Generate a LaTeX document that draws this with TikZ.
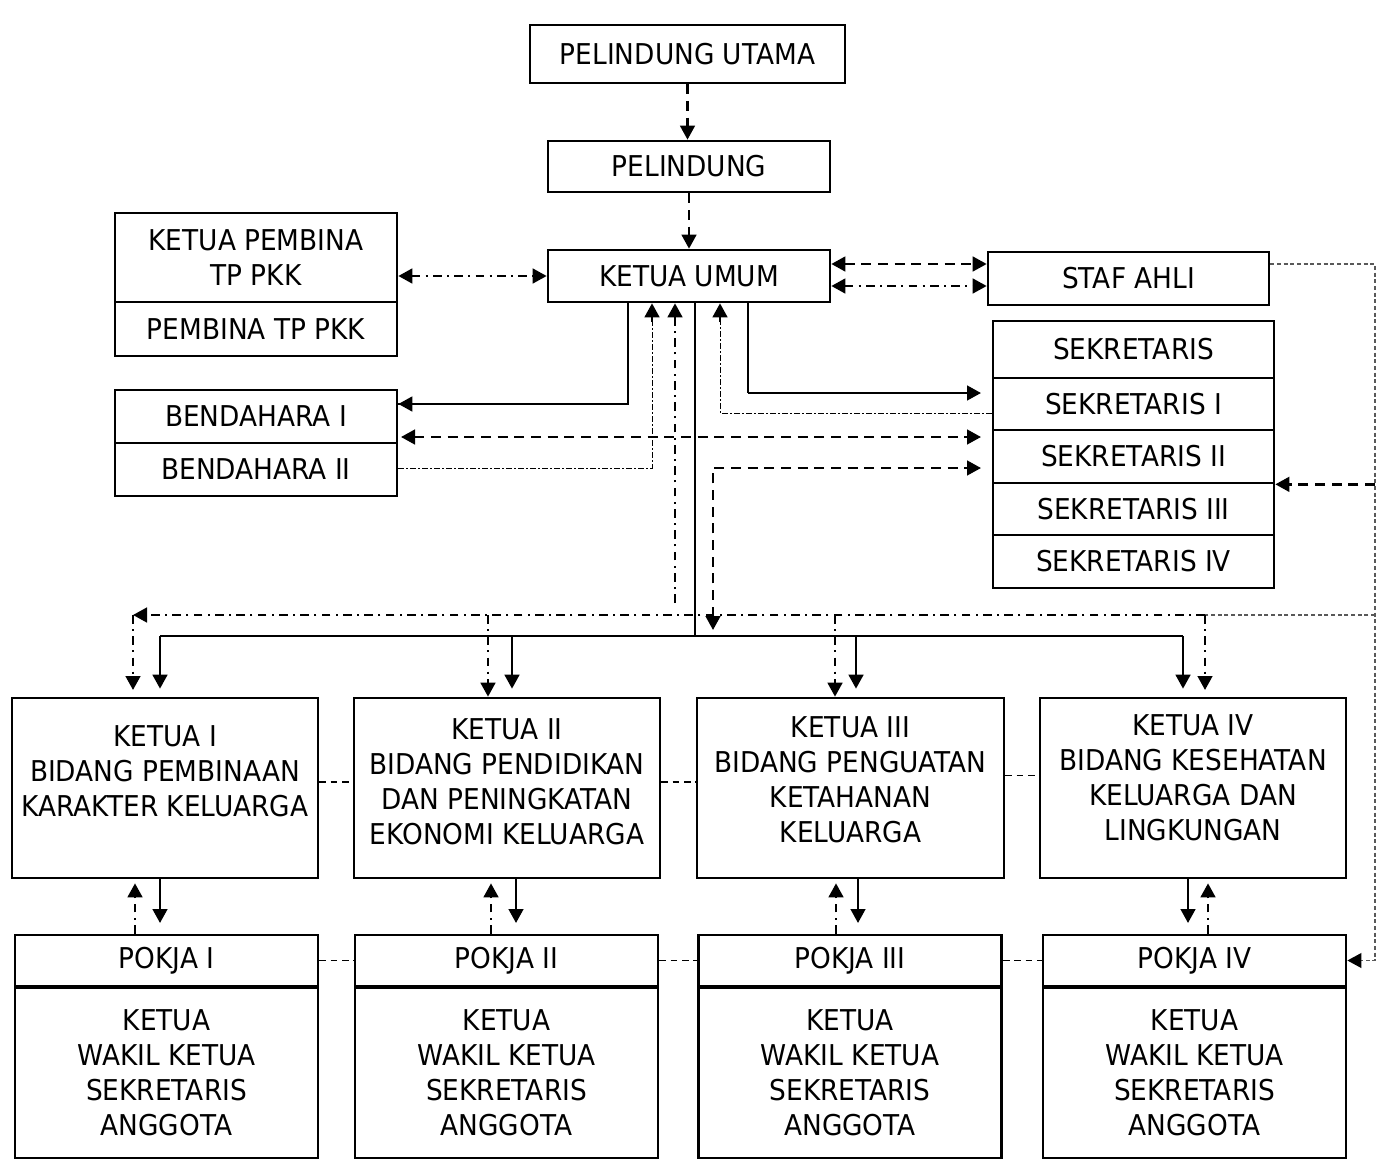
\documentclass[tikz,border=0pt]{standalone}
\usepackage{fontspec}
\setmainfont{DejaVu Sans}[FakeStretch=0.92]
\usetikzlibrary{arrows.meta,calc}
\tikzset{
  >={Triangle[length=10.5pt,width=11pt]},
  box/.style={draw, line width=2pt, inner sep=0pt, align=center, font=\fontsize{21.5pt}{26.25pt}\selectfont},
  txt/.style={inner sep=0pt, align=center, font=\fontsize{21.5pt}{26.25pt}\selectfont},
  sol/.style={line width=1.9pt},
  solthin/.style={line width=1.1pt},
  dsh/.style={line width=1.9pt, dash pattern=on 7.5pt off 5pt},
  dd/.style={line width=1.9pt, dash pattern=on 6.5pt off 4pt on 1.5pt off 4pt},
  tdd/.style={line width=0.7pt, dash pattern=on 4pt off 2pt on 1pt off 2pt},
  gd/.style={line width=0.8pt, black!65, dash pattern=on 3pt off 2pt},
  tdsh/.style={line width=0.9pt, dash pattern=on 5pt off 3.5pt},
}
\begin{document}
\begin{tikzpicture}[x=0.75pt,y=-0.75pt]
\useasboundingbox[fill=white] (0,0) rectangle (1383,1170);
% boxes
\node[box, minimum width=236.25pt, minimum height=43.5pt] (pu) at (687.5,54) {PELINDUNG UTAMA};
\node[box, minimum width=211.5pt, minimum height=38.25pt] (pel) at (689,166.5) {PELINDUNG};
\node[box, minimum width=211.5pt, minimum height=39pt] (ku) at (689,276) {KETUA UMUM};
\node[box, minimum width=211.5pt, minimum height=66.75pt] (kp) at (256,257.5) {KETUA PEMBINA\\TP PKK};
\node[box, minimum width=211.5pt, minimum height=40.5pt] (pp) at (256,329) {PEMBINA TP PKK};
\node[box, minimum width=210.75pt, minimum height=39.75pt] (staf) at (1128.5,278.5) {STAF AHLI};
\node[box, minimum width=210.75pt, minimum height=42.75pt] (sek) at (1133.5,349.5) {SEKRETARIS};
\node[box, minimum width=210.75pt, minimum height=39pt] (s1) at (1133.5,404) {SEKRETARIS I};
\node[box, minimum width=210.75pt, minimum height=39.75pt] (s2) at (1133.5,456.5) {SEKRETARIS II};
\node[box, minimum width=210.75pt, minimum height=39pt] (s3) at (1133.5,509) {SEKRETARIS III};
\node[box, minimum width=210.75pt, minimum height=39.75pt] (s4) at (1133.5,561.5) {SEKRETARIS IV};
\node[box, minimum width=211.5pt, minimum height=39.75pt] (b1) at (256,416.5) {BENDAHARA I};
\node[box, minimum width=211.5pt, minimum height=39.75pt] (b2) at (256,469.5) {BENDAHARA II};
% ketua row
\node[box, minimum width=229.5pt, minimum height=135pt] (k1) at (165,788) {};
\node[box, minimum width=229.5pt, minimum height=135pt] (k2) at (507,788) {};
\node[box, minimum width=230.25pt, minimum height=135pt] (k3) at (850.5,788) {};
\node[box, minimum width=229.5pt, minimum height=135pt] (k4) at (1193,788) {};
\node[txt] (k1t) at (165,771) {KETUA I\\BIDANG PEMBINAAN\\KARAKTER KELUARGA};
\node[txt] (k2t) at (507,782) {KETUA II\\BIDANG PENDIDIKAN\\DAN PENINGKATAN\\EKONOMI KELUARGA};
\node[txt] (k3t) at (850.5,780) {KETUA III\\BIDANG PENGUATAN\\KETAHANAN\\KELUARGA};
\node[txt] (k4t) at (1193,778) {KETUA IV\\BIDANG KESEHATAN\\KELUARGA DAN\\LINGKUNGAN};
% pokja row
\foreach \n/\cx/\nm in {1/166.5/I, 2/506.5/II, 3/850/III, 4/1194.5/IV}{
  \node[box, minimum width=227.25pt, minimum height=38.25pt] (p\n h) at (\cx,960.5) {POKJA \nm};
  \node[box, minimum width=227.25pt, minimum height=127.5pt] (p\n b) at (\cx,1073) {KETUA\\WAKIL KETUA\\SEKRETARIS\\ANGGOTA};
}
% helper coordinates
\coordinate (yA) at (0,264);
\coordinate (yB) at (0,286);
\coordinate (xR) at (1375,0);
\coordinate (xL1) at (628,0);
\coordinate (yBe) at (0,404);
\coordinate (xR1) at (748,0);
\coordinate (yS1) at (0,393);
\coordinate (xU3) at (720,0);
\coordinate (yS1b) at (0,413);
\coordinate (yBB) at (0,437);
\coordinate (xU1) at (652,0);
\coordinate (yB2) at (0,468);
\coordinate (xU2) at (675,0);
\coordinate (xM) at (695,0);
\coordinate (yBus) at (0,636);
\coordinate (yDD) at (0,615);
\coordinate (xD) at (713,0);
\coordinate (yDa) at (0,630);
\coordinate (yKK) at (0,782);
\coordinate (c1d) at (133,0);
\coordinate (c1s) at (160,0);
\coordinate (c2d) at (488,0);
\coordinate (c2s) at (512,0);
\coordinate (c3d) at (835,0);
\coordinate (c3s) at (856,0);
\coordinate (c4s) at (1183,0);
\coordinate (c4d) at (1205,0);
\coordinate (e1u) at (135,0);
\coordinate (e1d) at (160,0);
\coordinate (e2u) at (491,0);
\coordinate (e2d) at (516,0);
\coordinate (e3u) at (836,0);
\coordinate (e3d) at (858,0);
\coordinate (e4d) at (1188,0);
\coordinate (e4u) at (1208,0);
% top chain
\draw[dsh,->] (pu.south) -- (pu.south |- pel.north);
\draw[dsh,->] (pel.south) -- (ku.north);
\draw[dd,<->] (kp.east |- ku.west) -- (ku.west);
\draw[dsh,<->] (ku.east |- yA) -- (staf.west |- yA);
\draw[dd,<->] (ku.east |- yB) -- (staf.west |- yB);
% right rail
\draw[gd] (staf.east |- yA) -| (xR |- p4h.east) -- ([xshift=6pt]p4h.east);
\draw[line width=1.4pt,->] ([xshift=8pt]p4h.east) -- (p4h.east);
\draw[dsh,->] (xR |- s2.south east) -- (s2.south east);
\draw[gd] (xR |- yDD) -- (c4d |- yDD);
% under ketua umum
\draw[solthin] (ku.south -| xL1) |- (b1.east |- yBe);
\draw[sol,->] ([xshift=10pt]b1.east |- yBe) -- (b1.east |- yBe);
\draw[solthin] (ku.south -| xR1) |- (xR1 |- yS1);
\draw[sol,->,shorten >=8pt] (xR1 |- yS1) -- (s1.west |- yS1);
\draw[tdd] (s1.west |- yS1b) -| ([yshift=-14pt]ku.south -| xU3);
\draw[dd,->] ([yshift=-14pt]ku.south -| xU3) -- (ku.south -| xU3);
\draw[dsh,<->,shorten >=8pt,shorten <=2pt] (b1.east |- yBB) -- (s2.west |- yBB);
\draw[tdd] (b2.east |- yB2) -| ([yshift=-14pt]ku.south -| xU1);
\draw[dd,->] ([yshift=-14pt]ku.south -| xU1) -- (ku.south -| xU1);
\draw[dd,->] ([yshift=9pt]xU2 |- yDD) -- (ku.south -| xU2);
\draw[dsh,<->,shorten >=8pt] (xD |- yDa) |- (s2.west |- yB2);
% bus
\draw[solthin] (ku.south -| xM) -- (xM |- yBus);
\draw[solthin] (c1s |- yBus) -- (c4s |- yBus);
\draw[sol,->,shorten >=6pt] (c1s |- yBus) -- (k1.north -| c1s);
\draw[sol,->,shorten >=6pt] (c2s |- yBus) -- (k2.north -| c2s);
\draw[sol,->,shorten >=6pt] (c3s |- yBus) -- (k3.north -| c3s);
\draw[sol,->,shorten >=6pt] (c4s |- yBus) -- (k4.north -| c4s);
% dash-dot distribution line
\draw[dd,->] (c4d |- yDD) -- (c1d |- yDD);
\draw[dd,->,shorten >=5pt] (c1d |- yDD) -- (k1.north -| c1d);
\draw[dd,->] (c2d |- yDD) -- (k2.north -| c2d);
\draw[dd,->] (c3d |- yDD) -- (k3.north -| c3d);
\draw[dd,->,shorten >=5pt] (c4d |- yDD) -- (k4.north -| c4d);
% ketua - ketua
\draw[tdsh] (k1.east |- yKK) -- (k2.west |- yKK);
\draw[tdsh] (k2.east |- yKK) -- (k3.west |- yKK);
\draw[tdsh] ([yshift=5pt]k3.east |- yKK) -- ([yshift=5pt]k4.west |- yKK);
% ketua - pokja
\draw[dd,->,shorten >=3pt] (p1h.north -| e1u) -- (k1.south -| e1u);
\draw[sol,->,shorten >=8pt] (k1.south -| e1d) -- (p1h.north -| e1d);
\draw[dd,->,shorten >=3pt] (p2h.north -| e2u) -- (k2.south -| e2u);
\draw[sol,->,shorten >=8pt] (k2.south -| e2d) -- (p2h.north -| e2d);
\draw[dd,->,shorten >=3pt] (p3h.north -| e3u) -- (k3.south -| e3u);
\draw[sol,->,shorten >=8pt] (k3.south -| e3d) -- (p3h.north -| e3d);
\draw[dd,->,shorten >=3pt] (p4h.north -| e4u) -- (k4.south -| e4u);
\draw[sol,->,shorten >=8pt] (k4.south -| e4d) -- (p4h.north -| e4d);
% pokja - pokja
\draw[tdsh] (p1h.east) -- (p2h.west);
\draw[tdsh] (p2h.east) -- (p3h.west);
\draw[tdsh] (p3h.east) -- (p4h.west);
\end{tikzpicture}
\end{document}
